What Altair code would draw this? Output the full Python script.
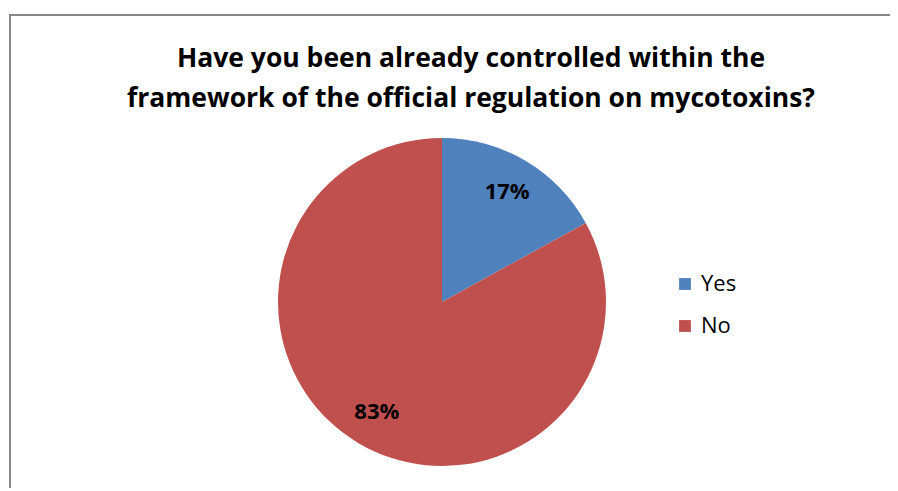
import altair as alt
import pandas as pd

categories = ["Yes", "No"]
values = [17, 83]
labels = ["17%", "83%"]
colors = ["#4f81bd", "#c0504d"]

df = pd.DataFrame({"answer": categories, "value": values, "label": labels,
                   "order": [0, 1]})

W, H = 882, 480
CX, CY = 434, 294
R = 164

base = alt.Chart(df).encode(
    theta=alt.Theta("value:Q", stack=True),
    order=alt.Order("order:Q"),
)

pie = base.mark_arc(outerRadius=R, stroke=None).encode(
    x=alt.value(CX), y=alt.value(CY),
    color=alt.Color("answer:N", sort=categories,
                    scale=alt.Scale(domain=categories, range=colors),
                    legend=alt.Legend(title=None, orient="none", legendX=666, legendY=265,
                                      symbolType="square", symbolSize=140,
                                      symbolStrokeWidth=0,
                                      labelFont="Open Sans", labelFontSize=22,
                                      labelColor="#000000", rowPadding=20,
                                      labelOffset=5)),
)

text = base.mark_text(radius=128, font="Open Sans", fontSize=22, fontWeight="bold",
                      color="#000000").encode(
    x=alt.value(CX), y=alt.value(CY), text="label:N")

border = alt.Chart(df).mark_rect(fill=None, stroke="#878787", strokeWidth=2).encode(
    x=alt.value(2), y=alt.value(7), x2=alt.value(960), y2=alt.value(600))

chart = alt.layer(border, pie, text).properties(
    width=W, height=H,
    autosize=alt.AutoSizeParams(type="none"),
    padding=0,
    title=alt.Title(
        ["Have you been already controlled within the",
         "framework of the official regulation on mycotoxins?"],
        anchor="middle", font="Open Sans", fontSize=26.5, fontWeight="bold",
        color="#000000", lineHeight=40, offset=-104, dx=22),
).configure_view(stroke=None)

chart.save("out.html", embed_options={"renderer": "svg", "actions": False})
